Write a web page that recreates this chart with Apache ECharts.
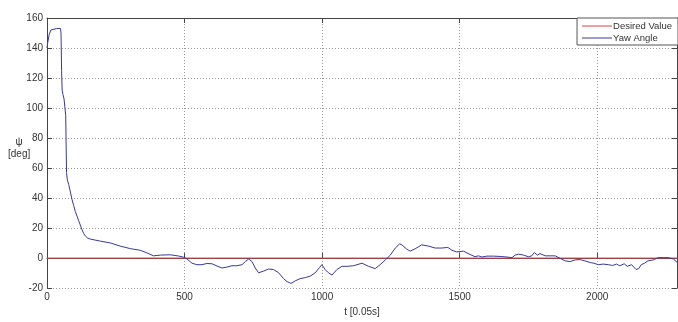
<!DOCTYPE html>
<html>
<head>
<meta charset="utf-8">
<script src="https://cdn.jsdelivr.net/npm/echarts@6/dist/echarts.min.js"></script>
<style>html,body{margin:0;padding:0;background:#fff;}#c{width:678px;height:322px;}</style>
</head>
<body>
<div id="c"></div>
<script>
var seriesNames = ['Desired Value', 'Yaw Angle'];
var desiredT = [0, 2290];
var desiredValues = [0, 0];
var tValues = [0,3,8,14,20,35,49,51,53,55,58,62,66,68,70,71,74,79,85,91,97,103,109,115,121,127,133,139,148,157,175,194,230,266,303,339,363,387,412,448,478,496,509,527,545,563,581,600,618,636,654,672,690,709,721,733,745,757,769,787,805,823,842,860,872,887,902,920,939,957,975,991,999,1011,1023,1036,1054,1072,1090,1114,1145,1169,1193,1211,1230,1248,1266,1282,1290,1306,1320,1338,1362,1387,1411,1435,1457,1472,1490,1514,1538,1556,1568,1581,1599,1623,1647,1672,1690,1702,1714,1732,1750,1762,1771,1783,1792,1811,1829,1847,1865,1884,1902,1920,1938,1956,1975,1988,2004,2022,2040,2056,2070,2082,2098,2109,2125,2141,2151,2160,2172,2184,2204,2222,2240,2258,2277,2290];
var yawValues = [140,144,149,152,153,153,153,150,125,112,109,106,105,95,70,57,52,49,44,39,35,31,28,25,22,19,16.5,14.8,13.3,12.7,12,11.3,10.1,8,6.3,5.2,3.5,1.5,2,2.2,1.4,0.6,-0.6,-3.4,-4.4,-4.4,-3.6,-3.8,-5.3,-6.6,-6,-5.1,-5.1,-4.4,-2.3,-0.6,-2.3,-6.6,-9.8,-8.7,-7.3,-7.6,-9.8,-13.7,-15.6,-16.9,-15.2,-13.7,-13,-12,-9.8,-6.2,-4.4,-7.6,-9.8,-11.3,-7.6,-5.5,-5.5,-5.1,-3.4,-5.5,-7,-4.4,-1.2,2,6.7,9.5,8.8,6.2,4.6,6.2,8.8,8,6.7,6.7,7.1,5.2,4.1,4.6,2.4,0.9,1.5,0.7,1.3,1.3,1.1,0.7,0.3,2,2.6,2,0.9,1.5,3.7,2,3,1.5,1.5,1.5,-0.2,-1.9,-2.3,-1.2,-1,-1.9,-3,-3.4,-4.4,-4,-4.4,-4.9,-4,-5.1,-3.8,-5.5,-4.4,-7.6,-7,-4.4,-3.4,-1.9,-1.2,0.3,0.3,0.3,-0.6,-2.8];
var xMin = 0, xMax = 2290, xStep = 500;
var yMin = -20, yMax = 160, yStep = 20;
var xTitle = 't [0.05s]';
var yTitle = 'ψ\n[deg]';

var axisColor = '#444';
var font = 'Liberation Sans, Arial, sans-serif';
function pairs(xs, ys){ return xs.map(function(x,i){ return [x, ys[i]]; }); }
function plain(v){ return String(v); }

var chart = echarts.init(document.getElementById('c'));
chart.setOption({
  animation: false,
  backgroundColor: '#fff',
  grid: { left: 47, right: 1, top: 18, bottom: 24, show: false },
  legend: {
    right: 0, top: 18, orient: 'vertical',
    data: seriesNames.map(function(n){ return { name: n, icon: 'rect' }; }),
    itemWidth: 30, itemHeight: 1, itemGap: 2,
    borderColor: '#555', borderWidth: 1, backgroundColor: '#fff',
    padding: [3, 6, 2, 5], borderRadius: 0,
    textStyle: { fontFamily: font, fontSize: 9.5, color: '#333', padding: [0,0,0,-4] }
  },
  xAxis: [{
    type: 'value', min: xMin, max: xMax, interval: xStep,
    name: xTitle, nameLocation: 'middle', nameGap: 17,
    nameTextStyle: { fontFamily: font, fontSize: 10, color: '#333' },
    axisLine: { show: true, lineStyle: { color: axisColor, width: 1 } },
    axisTick: { show: true, inside: true, length: 5, lineStyle: { color: axisColor } },
    axisLabel: { fontFamily: font, fontSize: 10, color: '#333', margin: 4, showMaxLabel: false, formatter: plain },
    splitLine: { show: true, lineStyle: { color: '#999', type: [1, 2], width: 1 } }
  }, {
    type: 'value', min: xMin, max: xMax, interval: xStep, position: 'top',
    axisLine: { show: true, onZero: false, lineStyle: { color: axisColor, width: 1 } },
    axisTick: { show: true, inside: true, length: 5, lineStyle: { color: axisColor } },
    axisLabel: { show: false }, splitLine: { show: false }
  }],
  yAxis: [{
    type: 'value', min: yMin, max: yMax, interval: yStep,
    axisLine: { show: true, onZero: false, lineStyle: { color: axisColor, width: 1 } },
    axisTick: { show: true, inside: true, length: 5, lineStyle: { color: axisColor } },
    axisLabel: { fontFamily: font, fontSize: 10, color: '#333', margin: 4, formatter: plain },
    splitLine: { show: true, lineStyle: { color: '#999', type: [1, 2], width: 1 } }
  }, {
    type: 'value', min: yMin, max: yMax, interval: yStep, position: 'right',
    axisLine: { show: true, onZero: false, lineStyle: { color: axisColor, width: 1 } },
    axisTick: { show: true, inside: true, length: 5, lineStyle: { color: axisColor } },
    axisLabel: { show: false }, splitLine: { show: false }
  }],
  graphic: [{
    type: 'text', left: 8, top: 136,
    style: { text: yTitle, fontFamily: font, fontSize: 10, fill: '#333', textAlign: 'center', lineHeight: 12, x: 12 }
  }],
  series: [{
    name: seriesNames[0], type: 'line', data: pairs(desiredT, desiredValues),
    showSymbol: false, symbol: 'none', lineStyle: { color: '#e04040', width: 1 }, itemStyle: { color: '#e04040' }, z: 2
  }, {
    name: seriesNames[1], type: 'line', data: pairs(tValues, yawValues),
    showSymbol: false, symbol: 'none', lineStyle: { color: '#3838a0', width: 1 }, itemStyle: { color: '#3838a0' }, z: 3
  }]
});
</script>
</body>
</html>
